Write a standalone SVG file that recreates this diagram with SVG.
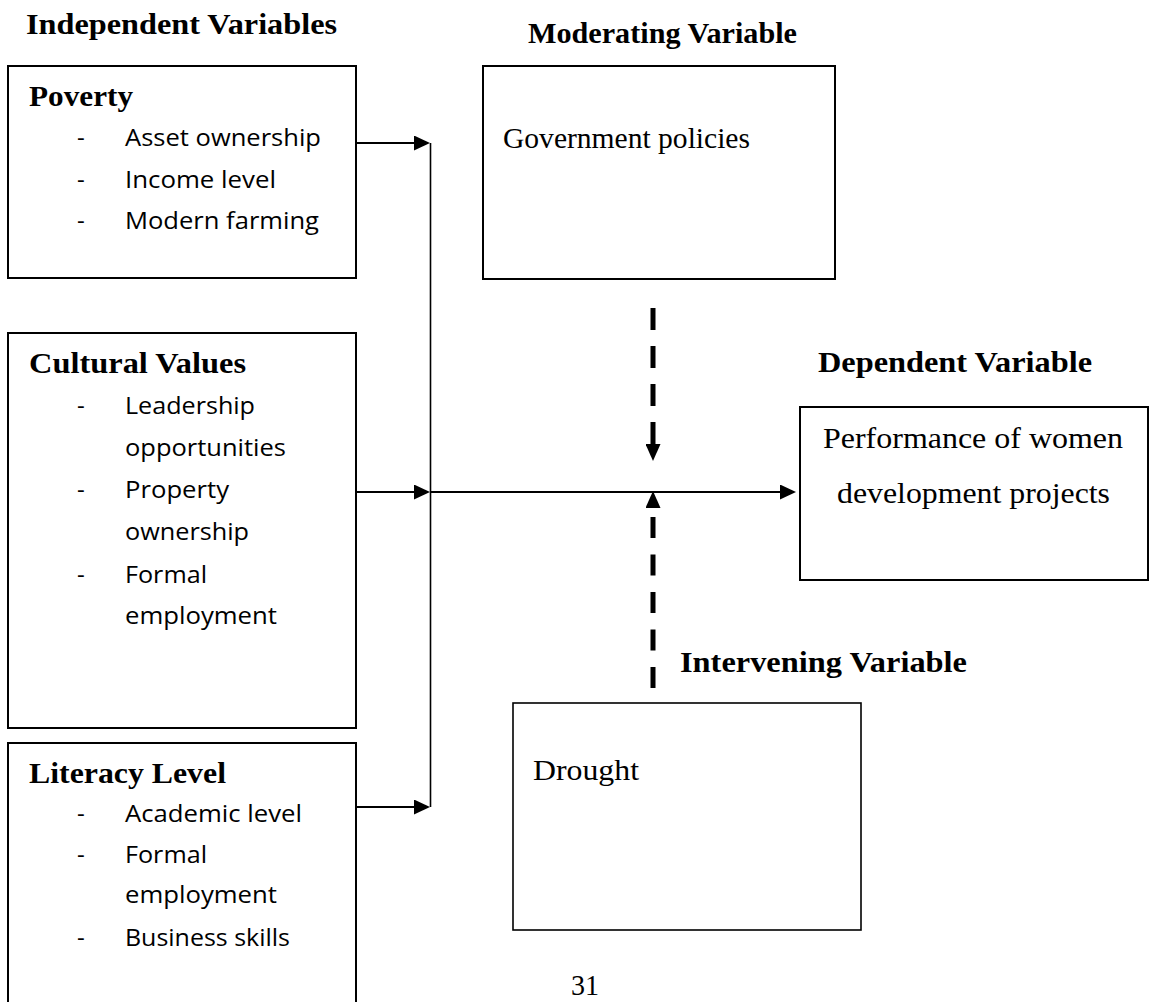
<svg xmlns="http://www.w3.org/2000/svg" width="1151" height="1002" viewBox="0 0 1151 1002">
<defs>
<style>
.box{fill:#fff;stroke:#000;stroke-width:2}
.tb{font-family:"Liberation Serif","Times New Roman",serif;font-weight:bold;font-size:30px;fill:#000}
.tr{font-family:"Liberation Serif","Times New Roman",serif;font-size:30px;fill:#000}
.s{font-family:"Open Sans","Noto Sans",sans-serif;font-size:24px;fill:#000}
.ln{fill:none;stroke:#000;stroke-width:2}
.dash{fill:none;stroke:#000;stroke-width:5}
</style>
<marker id="arr" markerUnits="userSpaceOnUse" markerWidth="16" markerHeight="15" refX="8" refY="7.5" orient="auto" viewBox="0 0 16 15">
<path d="M0,0 L16,7.5 L0,15 Z" fill="#000"/>
</marker>
<marker id="darr" markerUnits="userSpaceOnUse" markerWidth="17" markerHeight="15" refX="0" refY="7.5" orient="auto" viewBox="0 0 17 15">
<path d="M0,0 L17,7.5 L0,15 Z" fill="#000"/>
</marker>
</defs>
<rect width="1151" height="1002" fill="#fff"/>

<text class="tb" x="26" y="34" textLength="311" lengthAdjust="spacingAndGlyphs">Independent Variables</text>
<text class="tb" x="528" y="43" textLength="269" lengthAdjust="spacingAndGlyphs">Moderating Variable</text>
<text class="tb" x="818" y="372" textLength="274" lengthAdjust="spacingAndGlyphs">Dependent Variable</text>
<text class="tb" x="680" y="672" textLength="287" lengthAdjust="spacingAndGlyphs">Intervening Variable</text>

<g id="poverty">
<rect class="box" x="8" y="66" width="348" height="212"/>
<text class="tb" x="29" y="106" textLength="104" lengthAdjust="spacingAndGlyphs">Poverty</text>
<text class="s" x="77" y="146">-</text><text class="s" x="125" y="146" textLength="196" lengthAdjust="spacingAndGlyphs">Asset ownership</text>
<text class="s" x="77" y="188">-</text><text class="s" x="125" y="188" textLength="151" lengthAdjust="spacingAndGlyphs">Income level</text>
<text class="s" x="77" y="229">-</text><text class="s" x="125" y="229" textLength="194" lengthAdjust="spacingAndGlyphs">Modern farming</text>
</g>

<g id="cultural">
<rect class="box" x="8" y="333" width="348" height="395"/>
<text class="tb" x="29" y="373" textLength="217" lengthAdjust="spacingAndGlyphs">Cultural Values</text>
<text class="s" x="77" y="414">-</text><text class="s" x="125" y="414" textLength="130" lengthAdjust="spacingAndGlyphs">Leadership</text>
<text class="s" x="125" y="456" textLength="161" lengthAdjust="spacingAndGlyphs">opportunities</text>
<text class="s" x="77" y="498">-</text><text class="s" x="125" y="498" textLength="104" lengthAdjust="spacingAndGlyphs">Property</text>
<text class="s" x="125" y="540" textLength="124" lengthAdjust="spacingAndGlyphs">ownership</text>
<text class="s" x="77" y="583">-</text><text class="s" x="125" y="583" textLength="82" lengthAdjust="spacingAndGlyphs">Formal</text>
<text class="s" x="125" y="624" textLength="152" lengthAdjust="spacingAndGlyphs">employment</text>
</g>

<g id="literacy">
<rect class="box" x="8" y="743" width="348" height="270"/>
<text class="tb" x="29" y="783" textLength="197" lengthAdjust="spacingAndGlyphs">Literacy Level</text>
<text class="s" x="77" y="822">-</text><text class="s" x="125" y="822" textLength="177" lengthAdjust="spacingAndGlyphs">Academic level</text>
<text class="s" x="77" y="863">-</text><text class="s" x="125" y="863" textLength="82" lengthAdjust="spacingAndGlyphs">Formal</text>
<text class="s" x="125" y="903" textLength="152" lengthAdjust="spacingAndGlyphs">employment</text>
<text class="s" x="77" y="946">-</text><text class="s" x="125" y="946" textLength="165" lengthAdjust="spacingAndGlyphs">Business skills</text>
</g>

<g id="moderating">
<rect class="box" x="483" y="66" width="352" height="213"/>
<text class="tr" x="503" y="148" textLength="247" lengthAdjust="spacingAndGlyphs">Government policies</text>
</g>

<g id="dependent">
<rect class="box" x="800" y="407" width="348" height="173"/>
<text class="tr" x="823" y="448" textLength="300" lengthAdjust="spacingAndGlyphs">Performance of women</text>
<text class="tr" x="837" y="503" textLength="273" lengthAdjust="spacingAndGlyphs">development projects</text>
</g>

<g id="intervening">
<rect class="box" x="513" y="703" width="348" height="227" style="stroke-width:1.6"/>
<text class="tr" x="533" y="780" textLength="106" lengthAdjust="spacingAndGlyphs">Drought</text>
</g>

<text class="tr" x="571" y="995" textLength="28" lengthAdjust="spacingAndGlyphs">31</text>

<g id="connectors">
<path class="ln" d="M430.5,143 V807" style="stroke-width:1.6"/>
<path class="ln" d="M356,143 H422" marker-end="url(#arr)"/>
<path class="ln" d="M356,492 H422" marker-end="url(#arr)"/>
<path class="ln" d="M356,807 H422" marker-end="url(#arr)"/>
<path class="ln" d="M430,492 H788" marker-end="url(#arr)"/>
<path class="dash" d="M653,308 V444" stroke-dasharray="22 16" marker-end="url(#darr)"/>
<path class="dash" d="M653,688 V508" stroke-dasharray="21 16.5" marker-end="url(#darr)"/>
</g>
</svg>
